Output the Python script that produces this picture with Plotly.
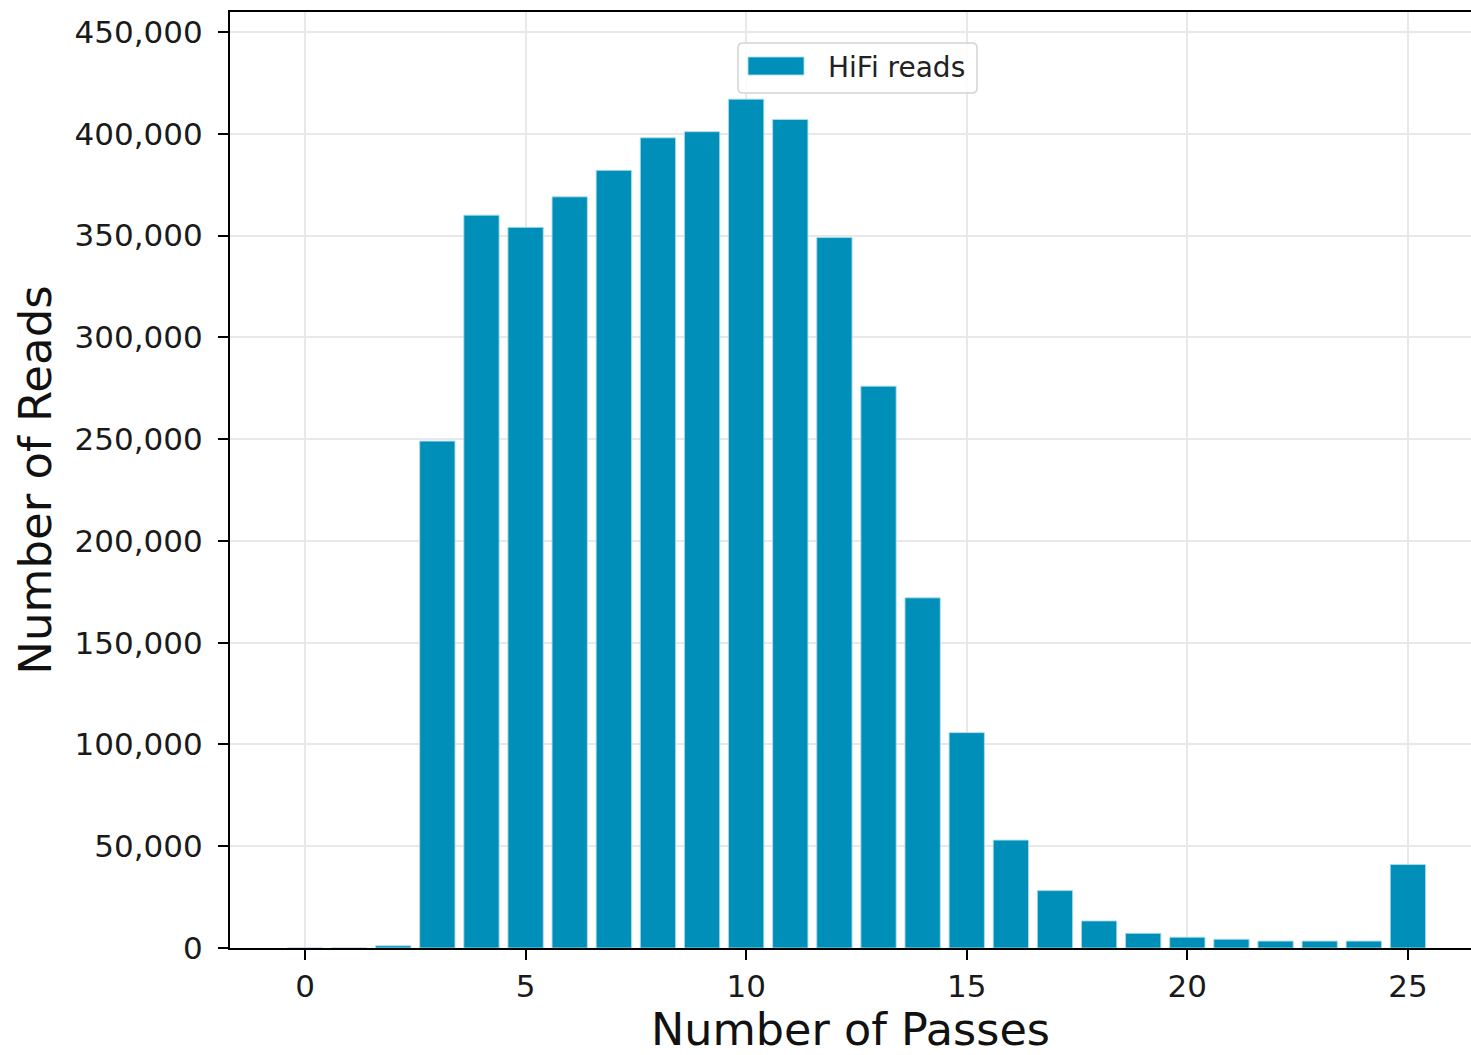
import plotly.graph_objects as go

passes = list(range(0, 26))
reads = [0, 0, 1100, 249000, 360000, 354000, 369000, 382000, 398000, 401000,
         417000, 407000, 349000, 276000, 172000, 105800, 53000, 28200, 13300, 7200,
         5300, 4300, 3400, 3400, 3400, 41000]
series_name = "HiFi reads"
x_ticks = [0, 5, 10, 15, 20, 25]
y_ticks = list(range(0, 450001, 50000))
y_tick_labels = [f"{v:,}" for v in y_ticks]

BAR = "#008fb8"
FONT = "DejaVu Sans"
W, H = 1471, 1055
ML, MR, MT, MB = 230, 0, 12, 107
PW, PH = W - ML - MR, H - MT - MB


def px(xp):
    return (xp - ML) / PW


def py(yp):
    return (H - MB - yp) / PH


fig = go.Figure()
fig.add_trace(go.Bar(
    x=passes, y=reads, width=0.8, name=series_name, showlegend=False,
    marker=dict(color=BAR, line=dict(color="rgba(170,220,235,0.9)", width=1)),
))

# legend box (rounded), swatch and label, drawn in paper coordinates
x0, x1, y0, y1, r = 738, 977, 43, 93, 5
path = (f"M {px(x0 + r)},{py(y0)} L {px(x1 - r)},{py(y0)} "
        f"Q {px(x1)},{py(y0)} {px(x1)},{py(y0 + r)} L {px(x1)},{py(y1 - r)} "
        f"Q {px(x1)},{py(y1)} {px(x1 - r)},{py(y1)} L {px(x0 + r)},{py(y1)} "
        f"Q {px(x0)},{py(y1)} {px(x0)},{py(y1 - r)} L {px(x0)},{py(y0 + r)} "
        f"Q {px(x0)},{py(y0)} {px(x0 + r)},{py(y0)} Z")
fig.add_shape(type="path", path=path, xref="paper", yref="paper",
              fillcolor="rgba(255,255,255,0.85)", line=dict(color="#d4d4d4", width=1.5), layer="above")
fig.add_shape(type="rect", xref="paper", yref="paper",
              x0=px(748), x1=px(804), y0=py(57), y1=py(75),
              fillcolor=BAR, line=dict(color="rgba(170,220,235,0.9)", width=1), layer="above")
fig.add_annotation(x=px(826), y=py(67), xref="paper", yref="paper", text=series_name,
                   showarrow=False, xanchor="left", yanchor="middle",
                   font=dict(size=28, family=FONT, color="#222222"))

fig.update_layout(
    width=W, height=H,
    margin=dict(l=ML, r=MR, t=MT, b=MB),
    paper_bgcolor="white", plot_bgcolor="white",
    font=dict(family=FONT, color="#1a1a1a", size=31),
    showlegend=False,
)
fig.update_xaxes(
    range=[-1.7, 26.43], tickvals=x_ticks, ticktext=[str(v) for v in x_ticks],
    showgrid=True, gridcolor="#e8e8e8", gridwidth=1.5,
    showline=True, linecolor="black", linewidth=2, mirror=True,
    ticks="outside", ticklen=10, tickwidth=2, tickcolor="black",
    zeroline=False,
    title=dict(text="Number of Passes", font=dict(size=44.5, family=FONT, color="#111111"), standoff=13),
    tickfont=dict(size=31),
)
fig.update_yaxes(
    range=[0, 459800], tickvals=y_ticks, ticktext=y_tick_labels,
    showgrid=True, gridcolor="#e8e8e8", gridwidth=1.5,
    showline=True, linecolor="black", linewidth=2, mirror=False,
    ticks="outside", ticklen=10, tickwidth=2, tickcolor="black",
    ticklabelstandoff=9,
    zeroline=False,
    title=dict(text="Number of Reads", font=dict(size=45, family=FONT, color="#111111"), standoff=9),
    tickfont=dict(size=31),
)

fig.write_html("out.html")
